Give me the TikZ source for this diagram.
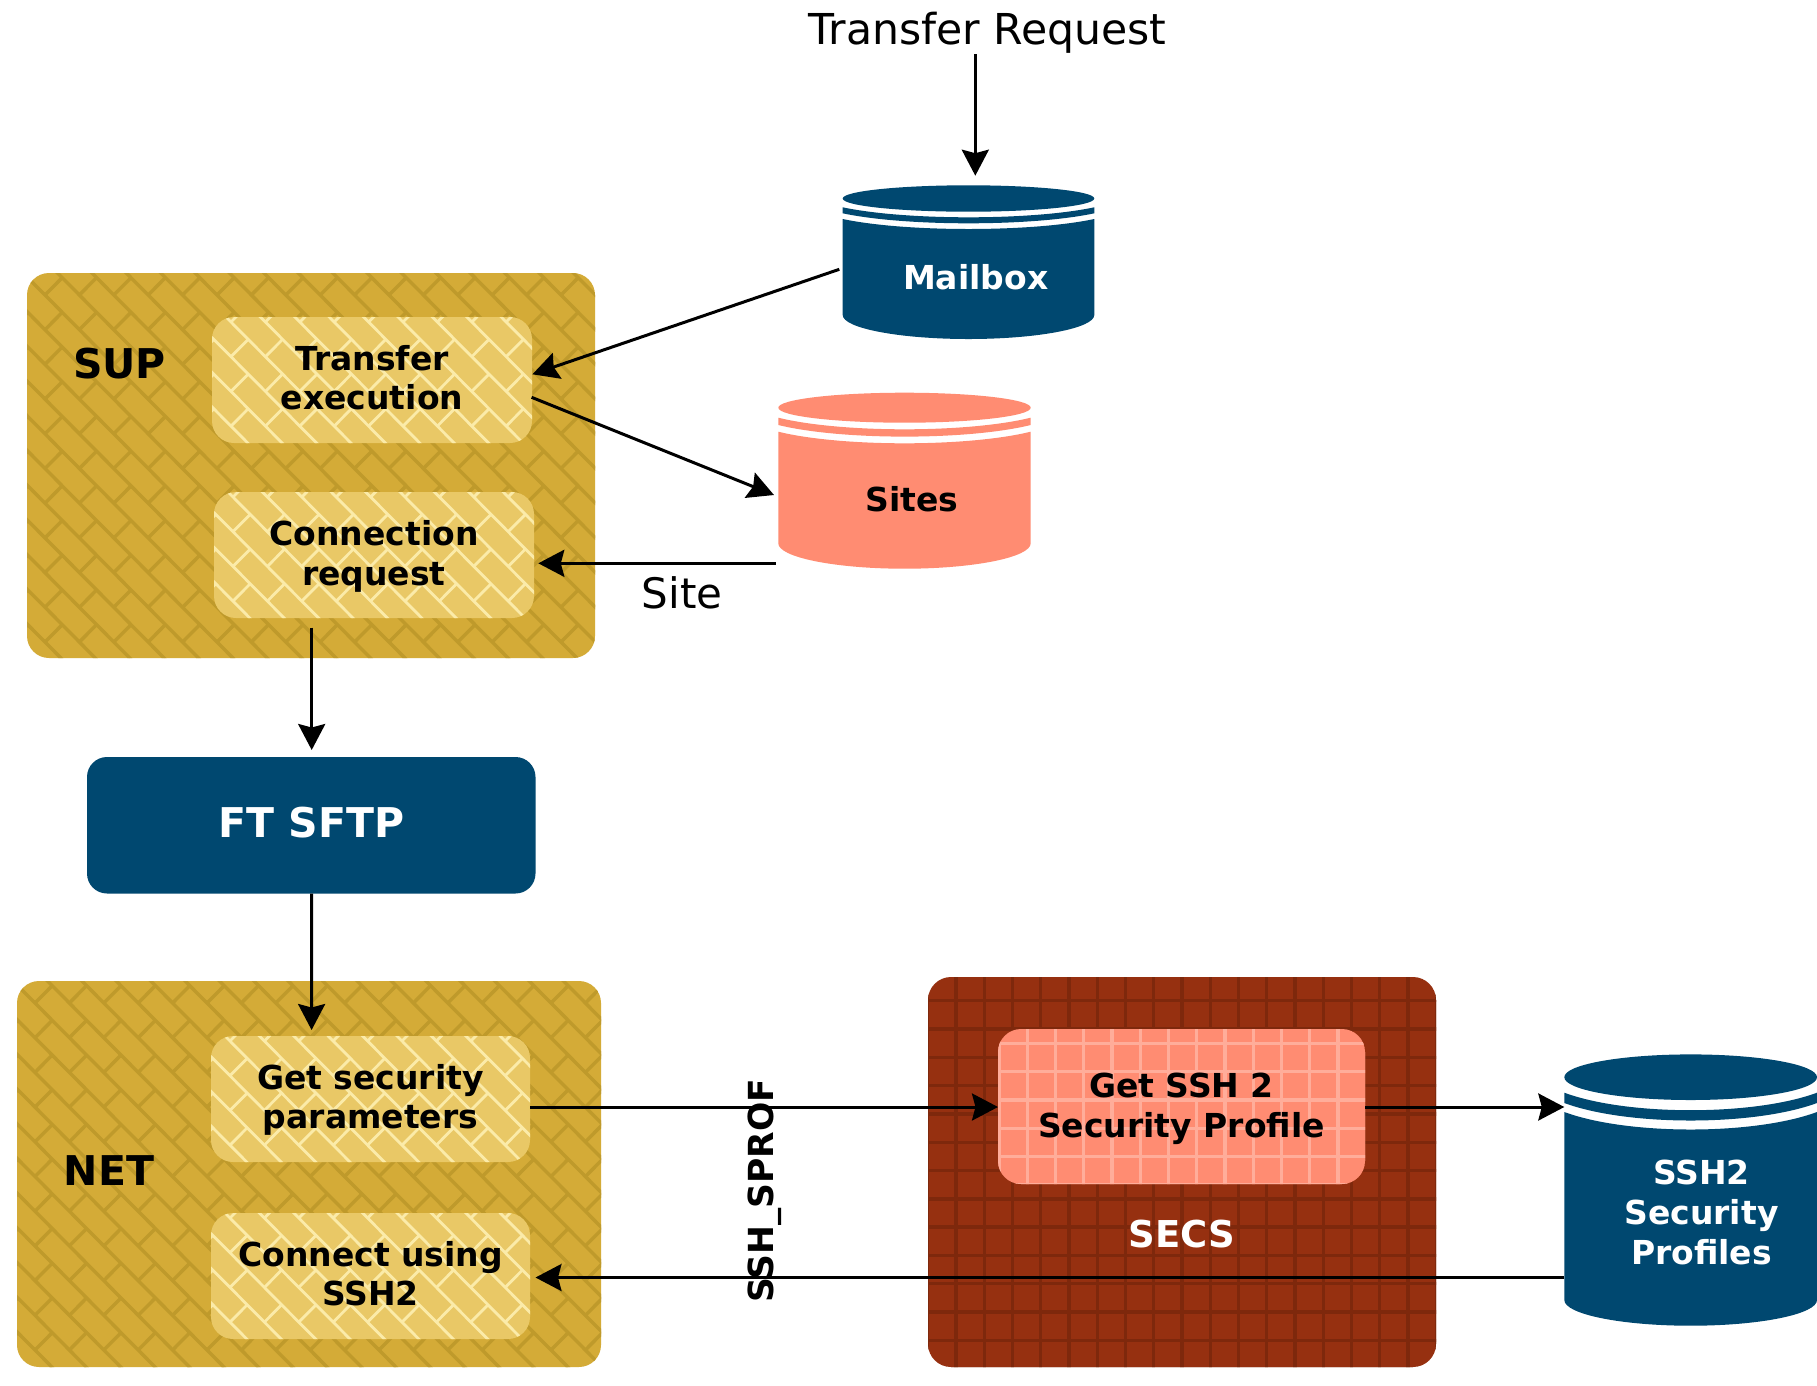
\documentclass[tikz,border=0pt]{standalone}
\usepackage{fontspec}
\setmainfont{DejaVu Sans}
\usetikzlibrary{arrows.meta,calc}
\definecolor{goldbg}{HTML}{D4AB37}
\definecolor{goldln}{HTML}{BF9A2B}
\definecolor{paleb}{HTML}{E9C866}
\definecolor{paleln}{HTML}{FBEBA9}
\definecolor{brownbg}{HTML}{963010}
\definecolor{brownln}{HTML}{7E280C}
\definecolor{salmon}{HTML}{FF8C72}
\definecolor{salmonln}{HTML}{FFAD9A}
\definecolor{navy}{HTML}{004870}
% brick texture: anchor x, anchor y (from the north west corner), colour, width, box w, box h
% (coordinates inside the path picture are relative to the centre of the empty node)
\newcommand{\brickfill}[6]{%
  \pgfmathsetmacro{\ox}{#1-(#5)/2}
  \pgfmathsetmacro{\oy}{#2-(#6)/2}
  \foreach \k in {-13,...,20}
    \draw[#3,line width=#4,sharp corners] ({\ox+34.4*(\k-16)},{\oy-34.7*16}) -- ({\ox+34.4*(\k+16)},{\oy+34.7*16});
  \foreach \i in {-1,...,18}
    \foreach \j in {-1,...,12}
      \draw[#3,line width=#4,sharp corners] ({\ox+34.4*\i},{\oy+34.7*\j}) -- +(17.2,-17.35);}
% square grid texture, same arguments
\newcommand{\gridfill}[6]{%
  \pgfmathsetmacro{\ox}{#1-(#5)/2}
  \pgfmathsetmacro{\oy}{#2-(#6)/2}
  \foreach \i in {-1,...,18}
    \draw[#3,line width=#4,sharp corners] ({\ox+28.25*\i},-300) -- ({\ox+28.25*\i},300);
  \foreach \j in {-1,...,14}
    \draw[#3,line width=#4,sharp corners] (-300,{\oy+28.3*\j}) -- (300,{\oy+28.3*\j});}
% cylinder: colour, x0, x1, ellipse cy, ry, s1, s2, s3, sag; bottom y and sag in \cb, \cbs
\newcommand{\cyl}[9]{%
  \pgfmathsetmacro{\cx}{(#2+#3)/2}
  \pgfmathsetmacro{\rx}{(#3-#2)/2}
  \pgfmathsetmacro{\cs}{#9*4/3}
  \pgfmathsetmacro{\qa}{#2+\rx/2}
  \pgfmathsetmacro{\qb}{#3-\rx/2}
  \fill[#1] (\cx,#4) ellipse [x radius=\rx pt,y radius=#5 pt];
  \fill[#1] (#2,#6) .. controls (\qa,{#6+\cs}) and (\qb,{#6+\cs}) .. (#3,#6)
     -- (#3,#7) .. controls (\qb,{#7+\cs}) and (\qa,{#7+\cs}) .. (#2,#7) -- cycle;
  \fill[#1] (#2,#8) .. controls (\qa,{#8+\cs}) and (\qb,{#8+\cs}) .. (#3,#8)
     -- (#3,\cb) .. controls (#3,{\cb+.55*\cbs}) and ({\cx+.55*\rx},{\cb+\cbs}) .. (\cx,{\cb+\cbs})
     .. controls ({\cx-.55*\rx},{\cb+\cbs}) and (#2,{\cb+.55*\cbs}) .. (#2,\cb) -- cycle;}
\tikzset{
  x=1pt,y=-1pt,
  boxtext/.style={font=\bfseries\fontsize{33}{39.4}\selectfont,align=center,inner sep=0pt,outer sep=0pt},
  outerbrick/.style 2 args={fill=goldbg,rounded corners=22pt,inner sep=0pt,outer sep=0pt,
    minimum width=#1pt,minimum height=#2pt,
    path picture={\brickfill{18}{22}{goldln}{3.4pt}{#1}{#2}}},
  innerbrick/.style={fill=paleb,rounded corners=22pt,inner sep=0pt,outer sep=0pt,
    minimum width=#1pt,minimum height=126pt,
    path picture={\brickfill{19}{5}{paleln}{2.8pt}{#1}{126}}},
  outergrid/.style={fill=brownbg,rounded corners=23pt,inner sep=0pt,outer sep=0pt,
    minimum width=508pt,minimum height=390pt,
    path picture={\gridfill{28}{23.7}{brownln}{3.4pt}{508}{390}}},
  innergrid/.style={fill=salmon,rounded corners=23pt,inner sep=0pt,outer sep=0pt,
    minimum width=367pt,minimum height=155pt,
    path picture={\gridfill{29.3}{14.3}{salmonln}{3.2pt}{367}{155}}},
  navybox/.style={fill=navy,rounded corners=20pt,inner sep=0pt,outer sep=0pt},
  shell/.style={inner sep=0pt,outer sep=0pt},
  grouplabel/.style={font=\bfseries\fontsize{41}{48}\selectfont,inner sep=0pt},
  plainlabel/.style={font=\fontsize{42}{50}\selectfont,inner sep=0pt},
  arr/.style={line width=3pt,-{Stealth[length=26pt,width=27pt,inset=3.5pt]}},
}
\begin{document}
\begin{tikzpicture}
\useasboundingbox (0,0) rectangle (1817,1385);
\fill[white] (0,0) rectangle (1817,1385);

% group boxes
\node[outerbrick={568}{385}] (sup) at (311,465.5) {};
\node[outerbrick={584}{386}] (net) at (309,1174) {};
\node[outergrid] (secs) at (1182,1172) {};

% inner boxes
\node[innerbrick=320] (transfer) at (372,380) {};
\node[innerbrick=320] (connreq) at (374,555) {};
\node[innerbrick=319] (getsec) at (370.5,1099) {};
\node[innerbrick=319] (connect) at (370.5,1276) {};
\node[innergrid] (getssh) at (1181.5,1106.5) {};
\node[navybox,minimum width=448.5pt,minimum height=136.5pt] (ftsftp) at (311.25,825.25) {};
\node[boxtext] (transfertext) at (372,377.7) {Transfer\\execution};
\node[boxtext] (connreqtext) at (374,556.2) {Connection\\request};
\node[boxtext] (getsectext) at (370.5,1100) {Get security\\parameters};
\node[boxtext] (connecttext) at (370.5,1273.7) {Connect using\\SSH2};
\node[boxtext] (getsshtext) at (1181.5,1108.8) {Get SSH 2\\Security Profile};
\node[grouplabel,text=white] (ftsftptext) at (311.25,823) {FT SFTP};

% cylinders
\def\cb{315}\def\cbs{24}
\cyl{navy}{842.7}{1094.3}{198.5}{13.2}{207.3}{213.3}{219}{10}
\def\cb{543.3}\def\cbs{25.4}
\cyl{salmon}{778.3}{1030.7}{407.7}{15}{417.7}{425}{431.7}{11.6}
\def\cb{1300}\def\cbs{25.7}
\cyl{navy}{1564.3}{1817}{1077.2}{22.8}{1092.7}{1103}{1112}{17.5}
\node[shell,minimum width=251.6pt,minimum height=153.7pt] (mailbox) at (968.5,262.15) {};
\node[shell,minimum width=252.4pt,minimum height=176pt] (sites) at (904.5,480.7) {};
\node[shell,minimum width=252.7pt,minimum height=271.4pt] (ssh2) at (1690.65,1190) {};
\node[boxtext,text=white] (mailboxlabel) at (975.7,277) {Mailbox};
\node[boxtext] (siteslabel) at (912,499.5) {Sites};
\node[boxtext,text=white,font=\bfseries\fontsize{33}{40}\selectfont] (ssh2label) at (1701.5,1212) {SSH2\\Security\\Profiles};

% labels
\node[grouplabel] (suplabel) at (119.6,363.5) {SUP};
\node[grouplabel] (netlabel) at (109,1170.5) {NET};
\node[grouplabel,text=white,font=\bfseries\fontsize{37}{44}\selectfont] (secslabel) at (1182,1234.5) {SECS};
\node[plainlabel,font=\fontsize{42.6}{50}\selectfont,minimum height=50pt] (title) at (987.7,33) {Transfer Request};
\node[plainlabel] (sitelabel) at (682,593) {Site};

% connectors
\draw[arr] ($(title.south)+(-12.4,-4)$) -- ($(mailbox.north)+(6.8,-9.6)$);
\draw[arr] ($(mailbox.west)+(-3.4,7.15)$) -- ($(transfer.east)+(0.4,-5.7)$);
\draw[arr] ($(transfer.east)+(-0.4,17.3)$) -- ($(sites.west)+(-4.3,14.3)$);
\draw[arr] ($(sites.west)+(-2.6,82.6)$) -- ($(connreq.east)+(4.3,8.3)$);
\draw[arr] ($(connreq.south)+(-62.3,9.7)$) -- ($(ftsftp.north)+(0.45,-7)$);
\draw[arr] ($(ftsftp.south)+(0.4,0)$) -- ($(getsec.north)+(-58.9,-6)$);
\draw[arr] ($(getsec.east)+(0,8)$) -- ($(getssh.west)+(0,0.5)$);
\draw[arr] ($(getssh.east)+(0,0.5)$) -- ($(ssh2.west)+(0,-83)$);
\draw[arr] ($(ssh2.west)+(0,87.5)$) -- ($(connect.east)+(5.5,1.5)$);

\node[rotate=90,font=\bfseries\fontsize{34.5}{40}\selectfont,inner sep=0pt] (sshsprof) at (764.5,1190.5) {SSH\_SPROF};
\end{tikzpicture}
\end{document}
